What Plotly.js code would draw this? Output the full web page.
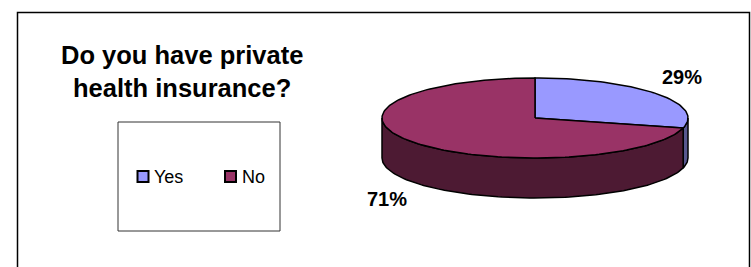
<!DOCTYPE html>
<html>
<head>
<meta charset="utf-8">
<script src="https://cdn.plot.ly/plotly-3.0.1.min.js"></script>
<style>
  html, body { margin: 0; padding: 0; background: #ffffff; }
  #chart { width: 751px; height: 267px; }
</style>
</head>
<body>
<div id="chart"></div>
<script>
// ---- data ----
const categories = ['Yes', 'No'];
const values = [29, 71];
const titleText = 'Do you have private<br>health insurance?';

// ---- styles ----
const topColors = ['#9999FF', '#993366'];
const sideColors = ['#58588f', '#4d1a33'];
const FONT = 'Liberation Sans, Arial, Helvetica, sans-serif';

// pie geometry (pixel space)
const pie = { cx: 535, cy: 118, rx: 153, ry: 40, depth: 40 };
const labelPos = [[682, 77], [387, 199]];

const total = values.reduce((a, b) => a + b, 0);
const rad = d => d * Math.PI / 180;

function pt(deg, dy) {
  return [pie.cx + pie.rx * Math.cos(rad(deg)), pie.cy + dy - pie.ry * Math.sin(rad(deg))];
}
function arc(from, to, dy) {
  const n = Math.max(2, Math.ceil(Math.abs(to - from) / 1.5));
  const xs = [], ys = [];
  for (let k = 0; k <= n; k++) {
    const d = from + (to - from) * k / n;
    const p = pt(d, dy);
    xs.push(p[0]); ys.push(p[1]);
  }
  return [xs, ys];
}

const wallTraces = [];
const topTraces = [];
let cum = 0;
values.forEach((v, i) => {
  const a0 = 90 - 360 * cum / total;          // start (higher angle)
  const a1 = 90 - 360 * (cum + v) / total;    // end (clockwise)
  cum += v;
  // top face
  const [ax, ay] = arc(a0, a1, 0);
  topTraces.push({
    type: 'scatter', mode: 'lines', fill: 'toself',
    x: [pie.cx].concat(ax, [pie.cx]),
    y: [pie.cy].concat(ay, [pie.cy]),
    fillcolor: topColors[i], line: { color: '#000', width: 1.5 },
    hoverinfo: 'skip', showlegend: false
  });
  // front wall: visible angles in [-180, 0] (and shifted by -360)
  [0, -360].forEach(shift => {
    const lo = Math.max(a1, -180 + shift);
    const hi = Math.min(a0, 0 + shift);
    if (hi > lo) {
      const [tx, ty] = arc(hi, lo, 0);
      const [bx, by] = arc(lo, hi, pie.depth);
      wallTraces.push({
        type: 'scatter', mode: 'lines', fill: 'toself',
        x: tx.concat(bx, [tx[0]]),
        y: ty.concat(by, [ty[0]]),
        fillcolor: sideColors[i], line: { color: '#000', width: 1.5 },
        hoverinfo: 'skip', showlegend: false
      });
    }
  });
});

// legend swatches (drawn manually inside the legend box)
const legendBox = { x0: 118, y0: 122, x1: 280, y1: 231 };
const legendItems = [{ mx: 143, tx: 152 }, { mx: 230.5, tx: 240 }];
const legendY = 176.5;
const legendTrace = {
  type: 'scatter', mode: 'markers',
  x: legendItems.map(d => d.mx), y: categories.map(() => legendY),
  marker: { symbol: 'square', size: 11, color: topColors, line: { color: '#000', width: 2 } },
  hoverinfo: 'skip', showlegend: false
};

const annotations = [
  {
    x: 182, y: 71, xref: 'x', yref: 'y', text: '<b>' + titleText + '</b>',
    showarrow: false, xanchor: 'center', yanchor: 'middle', align: 'center',
    font: { family: FONT, size: 25.5, color: '#000' }
  }
];
values.forEach((v, i) => {
  annotations.push({
    x: labelPos[i][0], y: labelPos[i][1], xref: 'x', yref: 'y',
    text: '<b>' + Math.round(v / total * 100) + '%</b>',
    showarrow: false, xanchor: 'center', yanchor: 'middle',
    font: { family: FONT, size: 20, color: '#000' }
  });
  annotations.push({
    x: legendItems[i].tx, y: legendY, xref: 'x', yref: 'y',
    text: categories[i], showarrow: false, xanchor: 'left', yanchor: 'middle',
    font: { family: FONT, size: 18, color: '#000' }
  });
});

const layout = {
  width: 751, height: 267,
  margin: { l: 0, r: 0, t: 0, b: 0, pad: 0 },
  paper_bgcolor: '#ffffff', plot_bgcolor: '#ffffff',
  xaxis: { range: [0, 751], visible: false, fixedrange: true },
  yaxis: { range: [267, 0], visible: false, fixedrange: true },
  showlegend: false,
  shapes: [
    { type: 'rect', xref: 'x', yref: 'y', x0: 17.5, y0: 12.5, x1: 749.5, y1: 280,
      line: { color: '#000', width: 1.5 }, fillcolor: 'rgba(0,0,0,0)', layer: 'below' },
    { type: 'rect', xref: 'x', yref: 'y', x0: legendBox.x0, y0: legendBox.y0, x1: legendBox.x1, y1: legendBox.y1,
      line: { color: '#333', width: 1 }, fillcolor: 'rgba(0,0,0,0)', layer: 'below' }
  ],
  annotations: annotations
};

Plotly.newPlot('chart', wallTraces.concat(topTraces, [legendTrace]), layout, { staticPlot: true, displayModeBar: false });
</script>
</body>
</html>
